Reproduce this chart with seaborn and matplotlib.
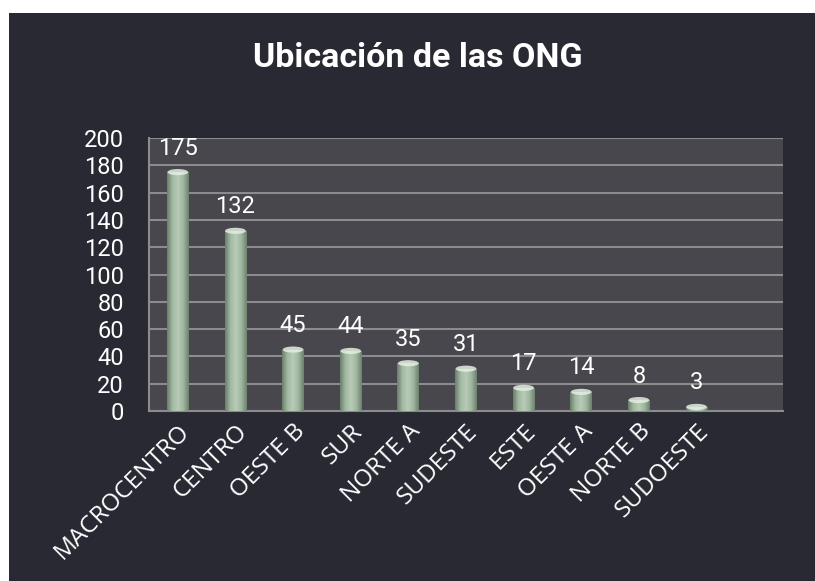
import matplotlib
matplotlib.use('Agg')
import matplotlib.pyplot as plt
import numpy as np
import pandas as pd
import seaborn as sns
from matplotlib.patches import Rectangle, Ellipse
from matplotlib.colors import LinearSegmentedColormap

categories = ['MACROCENTRO', 'CENTRO', 'OESTE B', 'SUR', 'NORTE A',
              'SUDESTE', 'ESTE', 'OESTE A', 'NORTE B', 'SUDOESTE']
counts = [175, 132, 45, 44, 35, 31, 17, 14, 8, 3]
y_ticks = list(range(0, 201, 20))

df = pd.DataFrame({'zona': categories, 'ong': counts})

bg = '#292933'
plot_bg = '#48474e'
grid_c = '#8c8c8e'

sns.set_style('dark')
plt.rcParams['font.family'] = ['Roboto', 'DejaVu Sans']

fig = plt.figure(figsize=(8.15, 5.81), dpi=100, facecolor='white')
# dark panel, leaving the white strip at top and left
fig.patches.append(Rectangle((9 / 815, 0), 1, 1 - 13 / 581, transform=fig.transFigure,
                             facecolor=bg, edgecolor='none', zorder=-10))

ax = fig.add_axes([149 / 815, 1 - 411 / 581, 634 / 815, 273 / 581])
ax.set_facecolor(plot_bg)

sns.barplot(data=df, x='zona', y='ong', color='#8fa58f', width=0.38, ax=ax,
            zorder=3, linewidth=0)

ax.set_xlim(-0.5, 10.5)
ax.set_ylim(0, 200)
ax.set_yticks(y_ticks)
ax.yaxis.grid(True, color=grid_c, linewidth=1.5, zorder=0)
ax.xaxis.grid(False)
ax.set_axisbelow(True)

# cylinder-like gradient on each bar
cyl = LinearSegmentedColormap.from_list('cyl', ['#6a806c', '#a3b9a3', '#b8cbb6', '#a0b6a0', '#6c826e'])
grad = np.linspace(0, 1, 64).reshape(1, -1)
for p in ax.patches:
    x0, w, h = p.get_x(), p.get_width(), p.get_height()
    im = ax.imshow(grad, cmap=cyl, aspect='auto', extent=(x0, x0 + w, 0, h), zorder=3)
    im.set_clip_path(p)
    p.set_facecolor('none')
    ax.add_patch(Ellipse((x0 + w / 2, h), w * 0.95, 4.5, facecolor='#e4efe2',
                         edgecolor='none', alpha=0.85, zorder=4))
    ax.annotate(f'{int(h)}', (x0 + w / 2, h), xytext=(0, 9), textcoords='offset points',
                ha='center', va='bottom', color='white', fontsize=17)

for s in ['top', 'right']:
    ax.spines[s].set_visible(False)
for s in ['left', 'bottom']:
    ax.spines[s].set_color(grid_c)
    ax.spines[s].set_linewidth(1.5)

ax.set_xticks(np.arange(-0.5, 10.6, 1), minor=True)
ax.tick_params(axis='x', which='minor', length=8, width=1.5, color=grid_c)
ax.tick_params(axis='x', which='major', length=0, pad=6)
ax.tick_params(axis='y', length=8, width=1.5, color=grid_c, pad=10,
               labelcolor='white', labelsize=17)

for lab in ax.get_xticklabels():
    lab.set_rotation(45)
    lab.set_ha('right')
    lab.set_va('top')
    lab.set_rotation_mode('anchor')
    lab.set_color('white')
    lab.set_fontsize(17.5)
    lab.set_family(['Open Sans', 'DejaVu Sans'])

ax.set_xlabel('')
ax.set_ylabel('')

fig.text(0.513, 0.90, 'Ubicación de las ONG', ha='center', va='center',
         color='white', fontsize=24.5, fontweight='bold')

fig.savefig('out.png', dpi=100, facecolor=fig.get_facecolor())
